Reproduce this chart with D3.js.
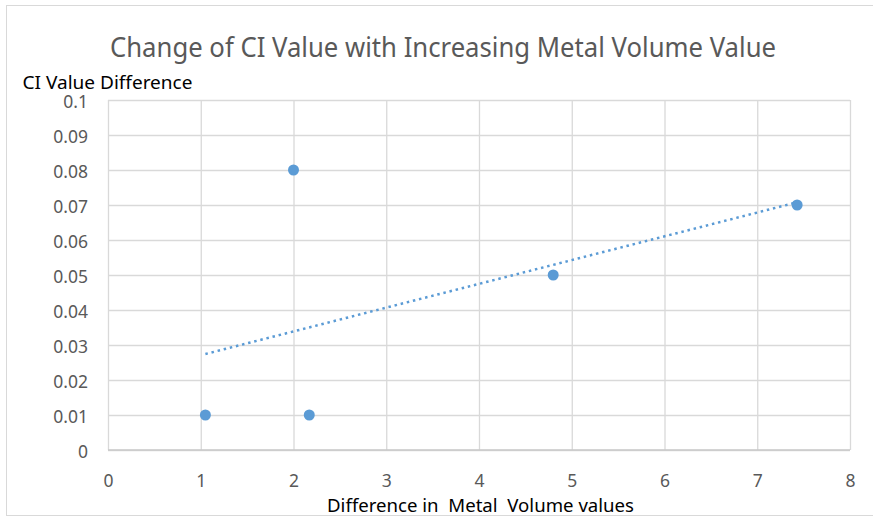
<!DOCTYPE html>
<html><head><meta charset="utf-8">
<script src="https://cdn.jsdelivr.net/npm/d3@7"></script>
<style>body{margin:0;background:#fff;}svg{display:block;font-family:"Noto Sans","Open Sans",sans-serif;}</style>
</head><body>
<svg id="chart" width="873" height="519"></svg>
<script>
const xValues = [1.05, 2.0, 2.17, 4.8, 7.43];
const yValues = [0.01, 0.08, 0.01, 0.05, 0.07];
const xTicks = [0,1,2,3,4,5,6,7,8];
const yTicks = [0,0.01,0.02,0.03,0.04,0.05,0.06,0.07,0.08,0.09,0.1];
const titleText = "Change of CI Value with Increasing Metal Volume Value";
const xTitle = "Difference in  Metal  Volume values";
const yTitle = "CI Value Difference";

const svg = d3.select("#chart");
const W = 873, H = 519;
const m = {left:108, right:850, top:100, bottom:450};
svg.append("rect").attr("x",6.5).attr("y",5.5).attr("width",W).attr("height",510).attr("fill","#fff").attr("stroke","#d9d9d9").attr("stroke-width",1);

const x = d3.scaleLinear().domain([0,8]).range([m.left,m.right]);
const y = d3.scaleLinear().domain([0,0.1]).range([m.bottom,m.top]);

// gridlines
const gx = svg.append("g").attr("transform",`translate(0,${m.bottom})`)
  .call(d3.axisBottom(x).tickValues(xTicks).tickSize(-(m.bottom-m.top)).tickFormat(""));
const gy = svg.append("g").attr("transform",`translate(${m.left},0)`)
  .call(d3.axisLeft(y).tickValues(yTicks).tickSize(-(m.right-m.left)).tickFormat(""));
[gx,gy].forEach(g=>{g.select(".domain").remove();g.selectAll(".tick line").attr("stroke","#d9d9d9").attr("stroke-width",1.3);});
svg.append("line").attr("x1",m.left).attr("x2",m.right).attr("y1",y(0)).attr("y2",y(0)).attr("stroke","#c8c8c8").attr("stroke-width",1.3);

// tick labels
const lx = svg.append("g").attr("transform",`translate(0,${m.bottom})`)
  .call(d3.axisBottom(x).tickValues(xTicks).tickSize(0).tickPadding(25).tickFormat(d3.format("d")));
const ly = svg.append("g").attr("transform",`translate(${m.left},0)`)
  .call(d3.axisLeft(y).tickValues(yTicks).tickSize(0).tickPadding(20).tickFormat(d=>d===0?"0":String(+d.toFixed(2))));
[lx,ly].forEach(g=>{g.select(".domain").remove();g.selectAll("text").attr("fill","#595959").style("font-size","17.5px").style("font-family",'"Noto Sans",sans-serif');});
ly.selectAll("text").attr("dy","0.42em");

// trendline (least squares)
const mx = d3.mean(xValues), my = d3.mean(yValues);
const slope = d3.sum(xValues.map((v,i)=>(v-mx)*(yValues[i]-my))) / d3.sum(xValues.map(v=>(v-mx)*(v-mx)));
const icpt = my - slope*mx;
const x0 = d3.min(xValues), x1 = d3.max(xValues);
svg.append("line").attr("x1",x(x0)).attr("y1",y(icpt+slope*x0)).attr("x2",x(x1)).attr("y2",y(icpt+slope*x1))
  .attr("stroke","#5b9bd5").attr("stroke-width",2.5).attr("stroke-dasharray","2.5,3.8");

// points
svg.append("g").selectAll("circle").data(xValues.map((v,i)=>[v,yValues[i]])).join("circle")
  .attr("cx",d=>x(d[0])).attr("cy",d=>y(d[1])).attr("r",5.5).attr("fill","#5b9bd5");

// titles
svg.append("text").attr("x",110).attr("y",56.5).attr("fill","#595959")
  .attr("textLength",666).attr("lengthAdjust","spacingAndGlyphs")
  .style("font-size","27px").text(titleText);
svg.append("text").attr("x",22.5).attr("y",88.5).attr("fill","#000")
  .attr("textLength",170).attr("lengthAdjust","spacingAndGlyphs")
  .style("font-size","18px").text(yTitle);
svg.append("text").attr("x",327).attr("y",512).attr("fill","#000")
  .attr("textLength",307).attr("lengthAdjust","spacingAndGlyphs")
  .style("font-size","18.5px").attr("xml:space","preserve").style("white-space","pre").text(xTitle);
</script>
</body></html>
